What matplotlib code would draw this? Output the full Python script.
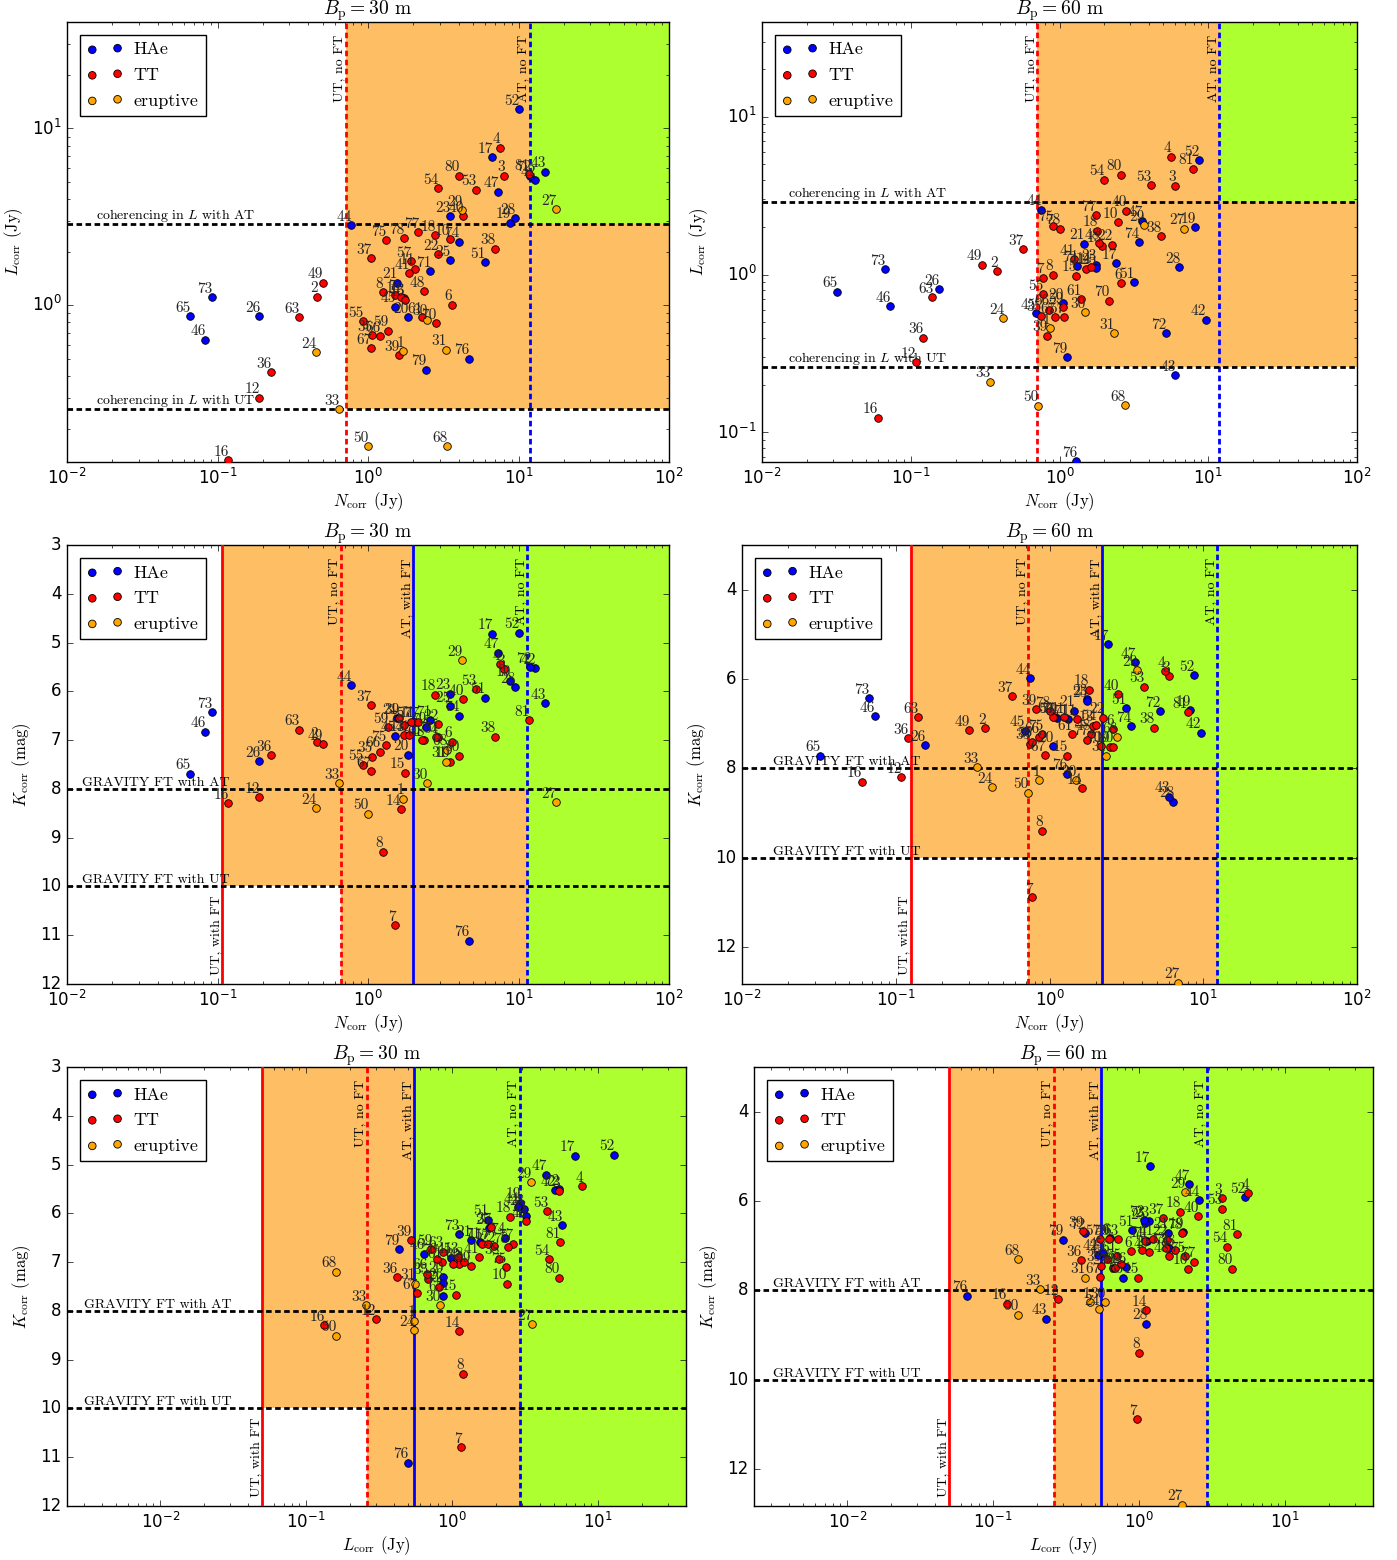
import numpy as np
import matplotlib
matplotlib.use('Agg')
import matplotlib.pyplot as plt
from matplotlib.transforms import blended_transform_factory

plt.style.use('classic')
plt.rcParams['figure.facecolor'] = 'white'
plt.rcParams['savefig.facecolor'] = 'white'
plt.rcParams['mathtext.fontset'] = 'cm'

# star catalogue: id, class, correlated fluxes / magnitudes at both baselines
ids = [1, 2, 3, 4, 6, 7, 8, 10, 11, 12, 13, 14, 15, 16, 17, 18, 19, 20, 21, 22,
       23, 24, 25, 26, 27, 28, 29, 30, 31, 33, 35, 36, 37, 38, 39, 40, 41, 42, 43, 44,
       45, 46, 47, 48, 49, 50, 51, 52, 53, 54, 55, 57, 59, 61, 63, 65, 66, 67, 68, 70,
       71, 72, 73, 74, 75, 76, 77, 78, 79, 80, 81]
kind = ['E', 'T', 'T', 'T', 'T', 'T', 'T', 'T', 'T', 'T', 'T', 'T', 'T', 'T', 'H', 'T', 'H', 'H', 'H', 'T',
        'H', 'E', 'H', 'H', 'E', 'H', 'E', 'E', 'E', 'E', 'T', 'T', 'T', 'T', 'T', 'T', 'T', 'H', 'H', 'H',
        'H', 'H', 'H', 'T', 'T', 'E', 'H', 'H', 'T', 'T', 'T', 'T', 'T', 'T', 'T', 'H', 'T', 'T', 'E', 'T',
        'H', 'H', 'H', 'H', 'T', 'H', 'T', 'T', 'H', 'T', 'T']
n30 = [1.72, 0.46, 8.0, 7.5, 3.6, 1.51, 1.25, 3.5, 2.05, 0.19, 1.73, 1.65, 1.75, 0.118, 6.7, 2.8, 8.8, 1.85, 1.56, 2.9,
       3.5, 0.45, 3.5, 0.19, 17.8, 9.5, 4.2, 2.45, 3.3, 0.64, 1.06, 0.226, 1.05, 7.0, 1.6, 4.3, 1.87, 12.9, 15.0, 0.77,
       1.52, 0.083, 7.3, 2.37, 0.50, 1.0, 6.0, 10.0, 5.2, 2.9, 0.93, 1.93, 1.35, 2.27, 0.35, 0.066, 1.2, 1.05, 3.35, 2.82,
       2.6, 12.0, 0.092, 4.0, 1.31, 4.7, 2.16, 1.73, 2.42, 4.0, 11.7]
l30 = [0.55, 1.12, 5.4, 7.8, 1.01, 1.15, 1.19, 2.37, 1.61, 0.30, 1.10, 1.12, 1.07, 0.133, 6.9, 2.5, 2.93, 0.86, 1.34, 1.95,
       3.2, 0.545, 1.8, 0.867, 3.5, 3.1, 3.45, 0.83, 0.56, 0.258, 0.68, 0.42, 1.84, 2.09, 0.524, 3.2, 1.52, 5.1, 5.7, 2.84,
       0.98, 0.64, 4.4, 1.20, 1.34, 0.16, 1.75, 12.9, 4.5, 4.6, 0.81, 1.77, 0.72, 0.855, 0.86, 0.867, 0.67, 0.574, 0.16, 0.79,
       1.56, 5.4, 1.11, 2.29, 2.33, 0.50, 2.6, 2.4, 0.433, 5.4, 5.5]
k30 = [8.20, 7.04, 5.55, 5.44, 7.03, 10.79, 9.29, 7.44, 6.62, 8.17, 6.90, 8.42, 7.67, 8.29, 4.82, 6.07, 5.78, 7.30, 6.55, 6.67,
       6.05, 8.40, 6.31, 7.43, 8.27, 5.91, 5.36, 7.88, 7.44, 7.88, 7.34, 7.31, 6.28, 6.93, 6.55, 6.16, 6.90, 5.52, 6.24, 5.87,
       6.91, 6.83, 5.21, 7.00, 7.08, 8.51, 6.13, 4.80, 5.96, 6.94, 7.50, 6.62, 6.74, 7.00, 6.79, 7.69, 7.24, 7.64, 7.20, 6.93,
       6.59, 5.50, 6.43, 6.50, 7.10, 11.11, 6.62, 6.70, 6.73, 7.32, 6.59]
n60 = [0.86, 0.38, 6.0, 5.6, 2.6, 0.77, 0.90, 2.47, 1.50, 0.108, 1.92, 1.62, 1.30, 0.060, 2.40, 1.80, 8.2, 1.05, 1.45, 2.24,
       1.75, 0.42, 1.75, 0.155, 6.9, 6.4, 3.7, 1.48, 2.33, 0.34, 0.75, 0.12, 0.57, 4.8, 0.82, 2.8, 1.25, 9.6, 6.0, 0.75,
       0.69, 0.073, 3.6, 1.85, 0.30, 0.72, 3.15, 8.7, 4.1, 2.0, 0.77, 1.07, 1.05, 1.40, 0.14, 0.032, 0.85, 0.93, 2.76, 2.16,
       1.32, 5.2, 0.067, 3.4, 0.90, 1.3, 1.76, 1.0, 1.12, 2.6, 7.9]
l60 = [0.46, 1.05, 3.67, 5.6, 0.88, 0.96, 1.00, 2.15, 1.09, 0.28, 1.52, 1.12, 0.985, 0.124, 1.18, 1.90, 2.0, 0.66, 1.57, 1.55,
       1.16, 0.53, 1.10, 0.81, 1.96, 1.12, 2.06, 0.58, 0.425, 0.21, 0.55, 0.40, 1.45, 1.75, 0.41, 2.55, 1.25, 0.52, 0.23, 2.58,
       0.57, 0.63, 2.2, 1.59, 1.16, 0.148, 0.90, 5.3, 3.7, 4.0, 0.75, 0.54, 0.62, 0.70, 0.72, 0.78, 0.60, 0.54, 0.149, 0.686,
       1.14, 0.425, 1.08, 1.61, 2.05, 0.066, 2.39, 1.96, 0.30, 4.3, 4.7]
k60 = [8.27, 7.10, 5.94, 5.82, 7.13, 10.88, 9.40, 7.52, 6.90, 8.20, 7.05, 8.45, 7.72, 8.30, 5.22, 6.24, 6.70, 7.50, 6.71, 6.87,
       6.45, 8.43, 6.50, 7.48, 12.8, 8.75, 5.80, 8.26, 7.72, 7.97, 7.45, 7.33, 6.38, 7.09, 6.68, 6.34, 6.85, 7.20, 8.64, 5.98,
       7.16, 6.83, 5.62, 7.24, 7.14, 8.55, 6.65, 5.92, 6.17, 7.02, 7.40, 6.85, 6.85, 7.24, 6.86, 7.72, 7.30, 7.70, 7.30, 7.50,
       6.90, 6.72, 6.43, 7.06, 7.23, 8.12, 7.36, 6.72, 6.87, 7.52, 6.74]

# instrument limits (UT with FT, UT no FT, AT with FT, AT no FT)
n_lims_30 = (0.107, 0.66, 2.0, 11.4)
n_lims_60 = (0.125, 0.73, 2.2, 12.3)
n_ut, n_at = 0.71, 11.9
l_lims = (0.05, 0.26, 0.55, 2.9)
k_at, k_ut = 8.0, 10.0

classes = [('H', 'HAe', 'b'), ('T', 'TT', 'r'), ('E', 'eruptive', '#FFA500')]
ORANGE = '#FDBE64'
GREEN = '#ADFF2F'
SERIF = 'cmr10'
BIG = 1e4

kind = np.array(kind)


def scatter_stars(ax, x, y):
    x = np.asarray(x)
    y = np.asarray(y)
    for code, name, col in classes:
        m = kind == code
        ax.scatter(x[m], y[m], s=30, c=col, edgecolors='k', linewidths=0.6,
                   label=name, zorder=5)
    for i, xv, yv in zip(ids, x, y):
        ax.annotate(str(i), (xv, yv), xytext=(0.5, 1), textcoords='offset points',
                    ha='right', va='bottom', fontsize=11, family=SERIF,
                    color='0.15', zorder=6)
    leg = ax.legend(loc='upper left', scatterpoints=2, fancybox=False,
                    prop={'family': SERIF, 'size': 13}, borderaxespad=0.7,
                    handletextpad=0.6, labelspacing=0.55)
    leg.get_frame().set_linewidth(1.0)
    leg.set_zorder(10)


def vline(ax, x, col, solid, text, bottom=False):
    ls = '-' if solid else '--'
    ln = ax.axvline(x, color=col, lw=2, ls=ls, zorder=3)
    if not solid:
        ln.set_dashes((4, 2.5))
    tr = blended_transform_factory(ax.transData, ax.transAxes)
    if bottom:
        ax.text(x, 0.02, text, transform=tr, rotation=90, ha='right', va='bottom',
                fontsize=10, family=SERIF, zorder=4)
    else:
        ax.text(x, 0.97, text, transform=tr, rotation=90, ha='right', va='top',
                fontsize=10, family=SERIF, zorder=4)


def hline(ax, y, text, xt):
    ln = ax.axhline(y, color='k', lw=2, ls='--', zorder=3)
    ln.set_dashes((4, 2.5))
    ax.text(xt, y, text, ha='left', va='bottom', fontsize=10, family=SERIF, zorder=4)


def flux_panel(ax, x, y, xlim, ylim, title, xt):
    l_ut, l_at = l_lims[1], l_lims[3]
    ax.set_xscale('log')
    ax.set_yscale('log')
    ax.fill_between([n_ut, BIG], l_ut, BIG, color=ORANGE, lw=0, zorder=1)
    ax.fill_between([n_at, BIG], l_at, BIG, color=GREEN, lw=0, zorder=1)
    vline(ax, n_ut, 'r', False, 'UT, no FT')
    vline(ax, n_at, 'b', False, 'AT, no FT')
    hline(ax, l_at, r'coherencing in $L$ with AT', xt)
    hline(ax, l_ut, r'coherencing in $L$ with UT', xt)
    scatter_stars(ax, x, y)
    ax.set_xlim(*xlim)
    ax.set_ylim(*ylim)
    ax.set_xlabel(r'$N_\mathrm{corr}$ (Jy)', family=SERIF, fontsize=12, labelpad=2)
    ax.set_ylabel(r'$L_\mathrm{corr}$ (Jy)', family=SERIF, fontsize=12)
    ax.set_title(title, fontsize=14, family=SERIF)


def mag_panel(ax, x, y, lims, xlim, ylim, yticks, title, xt, xlab):
    ut_ft, ut, at_ft, at = lims
    ax.set_xscale('log')
    ax.fill_between([ut_ft, BIG], -5, k_ut, color=ORANGE, lw=0, zorder=1)
    ax.fill_between([ut, BIG], -5, 30, color=ORANGE, lw=0, zorder=1)
    ax.fill_between([at_ft, BIG], -5, k_at, color=GREEN, lw=0, zorder=1)
    ax.fill_between([at, BIG], -5, 30, color=GREEN, lw=0, zorder=1)
    vline(ax, ut_ft, 'r', True, 'UT, with FT', bottom=True)
    vline(ax, ut, 'r', False, 'UT, no FT')
    vline(ax, at_ft, 'b', True, 'AT, with FT')
    vline(ax, at, 'b', False, 'AT, no FT')
    hline(ax, k_at, 'GRAVITY FT with AT', xt)
    hline(ax, k_ut, 'GRAVITY FT with UT', xt)
    scatter_stars(ax, x, y)
    ax.set_xlim(*xlim)
    ax.set_ylim(*ylim)
    ax.set_yticks(yticks)
    ax.set_xlabel(xlab, family=SERIF, fontsize=12, labelpad=2)
    ax.set_ylabel(r'$K_\mathrm{corr}$ (mag)', family=SERIF, fontsize=12)
    ax.set_title(title, fontsize=14, family=SERIF)


W, H = 1397, 1560
fig = plt.figure(figsize=(W / 100, H / 100), dpi=100)


def axes_px(left, right, top, bottom):
    return fig.add_axes([left / W, 1 - bottom / H, (right - left) / W, (bottom - top) / H])


ax1 = axes_px(67, 669, 22, 462)
ax2 = axes_px(762, 1357, 22, 462)
ax3 = axes_px(67, 669, 545, 984)
ax4 = axes_px(742, 1357, 545, 984)
ax5 = axes_px(67, 686, 1067, 1506)
ax6 = axes_px(754, 1373, 1067, 1506)

t30 = r'$B_\mathrm{p}=30$ m'
t60 = r'$B_\mathrm{p}=60$ m'

flux_panel(ax1, n30, l30, (0.01, 100), (0.13, 40), t30, 0.0155)
flux_panel(ax2, n60, l60, (0.01, 100), (0.065, 40), t60, 0.015)

nlab = r'$N_\mathrm{corr}$ (Jy)'
llab = r'$L_\mathrm{corr}$ (Jy)'
mag_panel(ax3, n30, k30, n_lims_30, (0.01, 100), (12, 3), range(3, 13), t30, 0.0125, nlab)
mag_panel(ax4, n60, k60, n_lims_60, (0.01, 100), (12.83, 3.0), range(4, 13, 2), t60, 0.016, nlab)
mag_panel(ax5, l30, k30, l_lims, (0.0023, 40), (12, 3), range(3, 13), t30, 0.003, llab)
mag_panel(ax6, l60, k60, l_lims, (0.0023, 40), (12.83, 3.0), range(4, 13, 2), t60, 0.0031, llab)

fig.savefig('out.png', dpi=100)
